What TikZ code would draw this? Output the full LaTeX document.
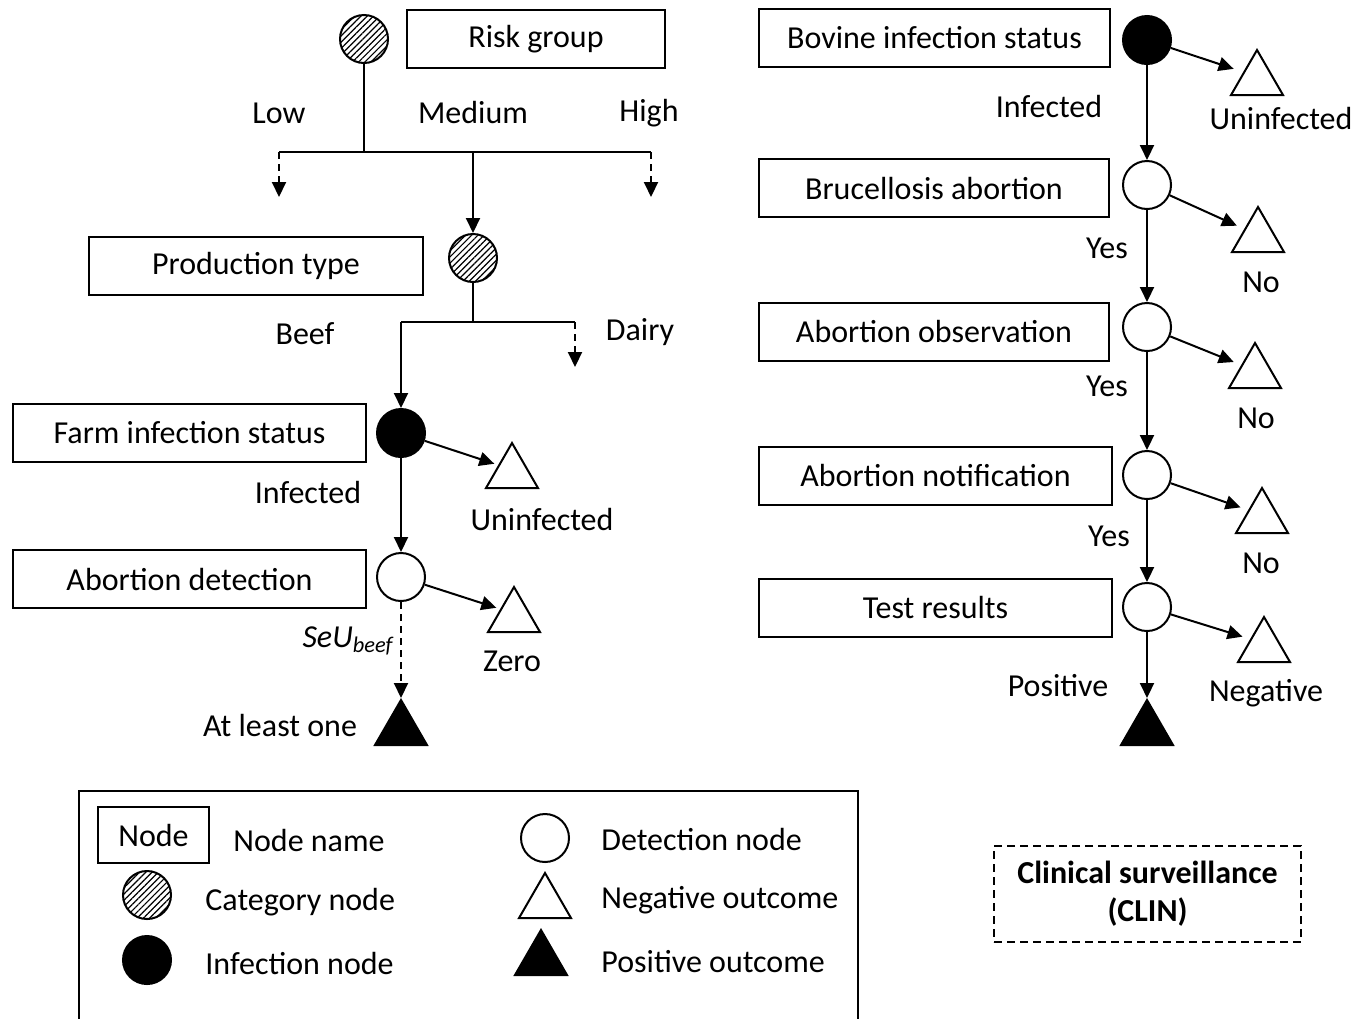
\documentclass[tikz,border=0pt]{standalone}
\usepackage{fontspec}
\setmainfont{Carlito}
\usetikzlibrary{arrows.meta,patterns.meta,shapes.geometric}

\tikzset{
  namebox/.style={draw, line width=1pt, minimum height=29pt, inner sep=0pt},
  catnode/.style={circle, draw, line width=1pt, minimum size=24pt, inner sep=0pt,
    pattern={Lines[angle=45,distance=2.2pt,line width=0.6pt]}},
  infnode/.style={circle, draw, fill=black, line width=1pt, minimum size=24pt, inner sep=0pt},
  detnode/.style={circle, draw, fill=white, line width=1pt, minimum size=24pt, inner sep=0pt},
  negout/.style={regular polygon, regular polygon sides=3, draw, line width=1pt,
    minimum size=30pt, inner sep=0pt},
  posout/.style={negout, fill=black},
  arr/.style={line width=1pt, -{Triangle[length=7.5pt,width=7pt]}},
  darr/.style={arr, dash pattern=on 3.5pt off 2.5pt},
  tree/.style={line width=1pt}
}

\begin{document}
\begin{tikzpicture}[x=0.5pt, y=-0.5pt, font=\fontsize{16}{19}\selectfont]
  \useasboundingbox (0,0) rectangle (1368,1018);

  % Beef branch
  \node[catnode] (rg) at (364,39) {};
  \node[namebox, minimum width=129pt] (rgbox) at (536,39) {Risk group};
  \coordinate (rgj) at (364,152);
  \coordinate (lowj) at (279,152);
  \coordinate (medj) at (473,152);
  \coordinate (highj) at (651,152);
  \coordinate (lowend) at (279,197);
  \coordinate (highend) at (651,197);
  \draw[tree] (rg) -- (rgj);
  \draw[tree] (lowj) -- (highj);
  \draw[darr] (lowj) -- (lowend);
  \draw[darr] (highj) -- (highend);
  \node (low) at (279,113) {Low};
  \node (med) at (473,113) {Medium};
  \node (high) at (649,113) {High};

  \node[catnode] (pt) at (473,258) {};
  \node[namebox, minimum width=167pt] (ptbox) at (256,266) {Production type};
  \draw[arr] (medj) -- (pt);
  \coordinate (ptj) at (473,322);
  \coordinate (beefj) at (401,322);
  \coordinate (dairyj) at (575,322);
  \coordinate (dairyend) at (575,367);
  \draw[tree] (pt) -- (ptj);
  \draw[tree] (beefj) -- (dairyj);
  \draw[darr] (dairyj) -- (dairyend);
  \node (beef) at (305,334) {Beef};
  \node (dairy) at (640,332) {Dairy};

  \node[infnode] (fi) at (401,433) {};
  \node[namebox, minimum width=176.5pt] (fibox) at (189.5,433) {Farm infection status};
  \draw[arr] (beefj) -- (fi);
  \node[negout] (fneg) at (512,473) {};
  \draw[arr, shorten >=2pt] (fi) -- (fneg.side 1);
  \node (funinf) at (542,519) {Uninfected};
  \node (finf) at (308,492) {Infected};

  \node[detnode] (ad) at (401,577) {};
  \node[namebox, minimum width=176.5pt] (adbox) at (189.5,579) {Abortion detection};
  \draw[arr] (fi) -- (ad);
  \node[negout] (zero) at (514,617) {};
  \draw[arr, shorten >=2pt] (ad) -- (zero.side 1);
  \node (zerolab) at (512,661) {Zero};
  \node[posout] (atl) at (401,730) {};
  \draw[darr] (ad) -- (atl.corner 1);
  \node (atllab) at (280,725) {At least one};
  \node (seu) at (348,641) {\textit{SeU\textsubscript{beef}}};

  % Cattle branch
  \node[infnode] (bi) at (1147,40) {};
  \node[namebox, minimum width=175.5pt] (bibox) at (934.5,38) {Bovine infection status};
  \node[negout] (bneg) at (1257,80) {};
  \draw[arr, shorten >=5pt] (bi) -- (bneg.side 1);
  \node (buninf) at (1281,119) {Uninfected};
  \node (binf) at (1049,107) {Infected};

  \node[detnode] (d1) at (1147,185) {};
  \node[namebox, minimum width=175pt] (d1box) at (934,188) {Brucellosis abortion};
  \node[detnode] (d2) at (1147,327) {};
  \node[namebox, minimum width=175pt] (d2box) at (934,331.5) {Abortion observation};
  \node[detnode] (d3) at (1147,475) {};
  \node[namebox, minimum width=176.5pt] (d3box) at (935.5,475.5) {Abortion notification};
  \node[detnode] (d4) at (1147,607) {};
  \node[namebox, minimum width=176.5pt] (d4box) at (935.5,607.5) {Test results};

  \draw[arr] (bi) -- (d1);
  \draw[arr] (d1) -- (d2);
  \draw[arr] (d2) -- (d3);
  \draw[arr] (d3) -- (d4);

  % Negative outcomes of the detection nodes
  \foreach \i/\tx/\ty/\lx/\ly/\lab in {1/1258/237/1261/282/No, 2/1255/373/1256/418/No,
      3/1262/518/1261/563/No, 4/1264/647/1266/693/Negative} {
    \node[negout] (n\i) at (\tx,\ty) {};
    \draw[arr, shorten >=4pt] (d\i) -- (n\i.side 1);
    \node (n\i lab) at (\lx,\ly) {\lab};
  }
  \node (yes1) at (1107,248) {Yes};
  \node (yes2) at (1107,386) {Yes};
  \node (yes3) at (1109,536) {Yes};

  \node[posout] (bpos) at (1147,730) {};
  \draw[arr] (d4) -- (bpos.corner 1);
  \node (bposlab) at (1058,686) {Positive};

  % Legend
  \draw[line width=1pt] (79,1040) -- (79,791) -- (858,791) -- (858,1040);
  \node[namebox, minimum width=55.5pt, minimum height=28pt] (lgbox) at (153.5,835) {Node};
  \node (lgboxlab) at (309,840) {Node name};
  \node[catnode] (lgcat) at (147,895) {};
  \node[anchor=west, inner sep=0pt] (lgcatlab) at (205,902) {Category node};
  \node[infnode] (lginf) at (147,960) {};
  \node[anchor=west, inner sep=0pt] (lginflab) at (205,963) {Infection node};
  \node[detnode] (lgdet) at (545,838) {};
  \node[anchor=west, inner sep=0pt] (lgdetlab) at (601,839) {Detection node};
  \node[negout] (lgneg) at (545,903) {};
  \node[anchor=west, inner sep=0pt] (lgneglab) at (601,900) {Negative outcome};
  \node[posout] (lgpos) at (541,960) {};
  \node[anchor=west, inner sep=0pt] (lgposlab) at (601,962) {Positive outcome};

  % Surveillance component
  \node[draw, line width=1pt, dash pattern=on 4pt off 2.5pt, minimum width=153.5pt,
    minimum height=48pt, align=center, font=\fontsize{16}{19}\selectfont\bfseries]
    (clin) at (1147.5,894) {\raisebox{-1.5pt}{Clinical surveillance}\\\raisebox{-1.5pt}{(CLIN)}};
\end{tikzpicture}
\end{document}
